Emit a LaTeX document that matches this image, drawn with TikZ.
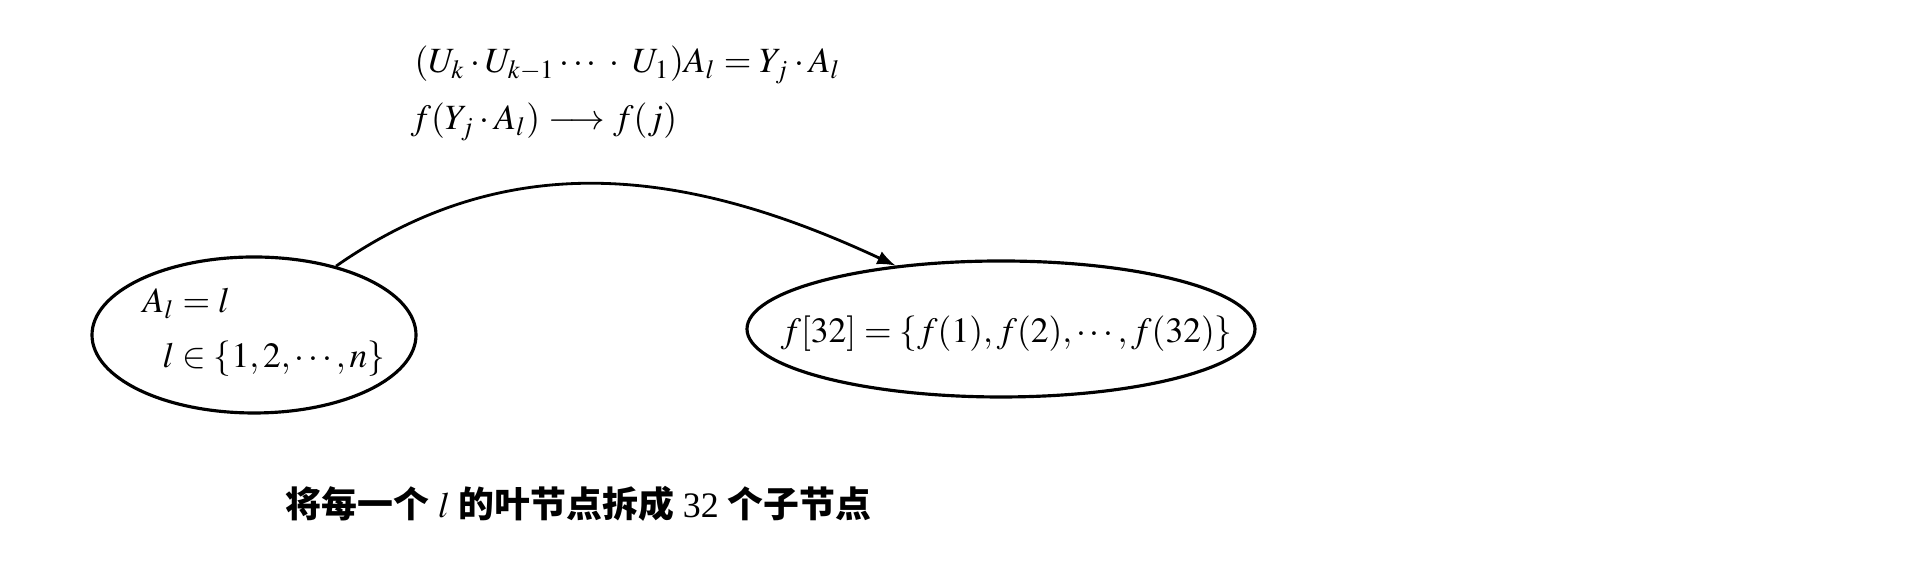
\documentclass[tikz,border=0pt]{standalone}
\usepackage{mathptmx}
\usepackage[no-math]{fontspec}
\setmainfont{Liberation Serif}
\newfontfamily\cjk{Noto Sans CJK SC}
\usetikzlibrary{shapes.geometric}

\tikzset{
  oval/.style={ellipse, draw, line width=0.9pt, inner sep=0pt},
  formula/.style={anchor=base west, inner sep=0pt},
}

\begin{document}
\begin{tikzpicture}[font=\fontsize{10.1}{12}\selectfont]
    \useasboundingbox (0,0) rectangle (19.2,5.64);
    % formulas on top
    \node[formula] (eqa) at (4.14,4.91) {$(U_k\cdot U_{k-1}\cdots\;\cdot\; U_1)A_l=Y_j\cdot A_l$};
    \node[formula] (eqb) at (4.10,4.34) {$f(Y_j\cdot A_l)\longrightarrow f(j)$};
    % leaf and its children
    \node[oval, minimum width=3.24cm, minimum height=1.56cm] (leaf) at (2.54,2.29) {};
    \node[formula] (leafa) at (1.42,2.51) {$A_l=l$};
    \node[formula] (leafb) at (1.62,1.96) {$l\in\{1,2,\cdots,n\}$};
    \node[oval, minimum width=5.08cm, minimum height=1.36cm] (kids) at (10.01,2.35) {};
    \node[formula] (kidstext) at (7.80,2.21) {$f[32]=\{f(1),f(2),\cdots,f(32)\}$};
    \draw[line width=0.8pt,-latex] (leaf.40) to[out=35,in=155] (kids.149);
    % caption
    \node[formula, font=\fontsize{10.2}{12}\selectfont] (note) at (2.85,0.46) {{\cjk\bfseries 将每一个} $l$ {\cjk\bfseries 的叶节点拆成} 32 {\cjk\bfseries 个子节点}};
\end{tikzpicture}
\end{document}
